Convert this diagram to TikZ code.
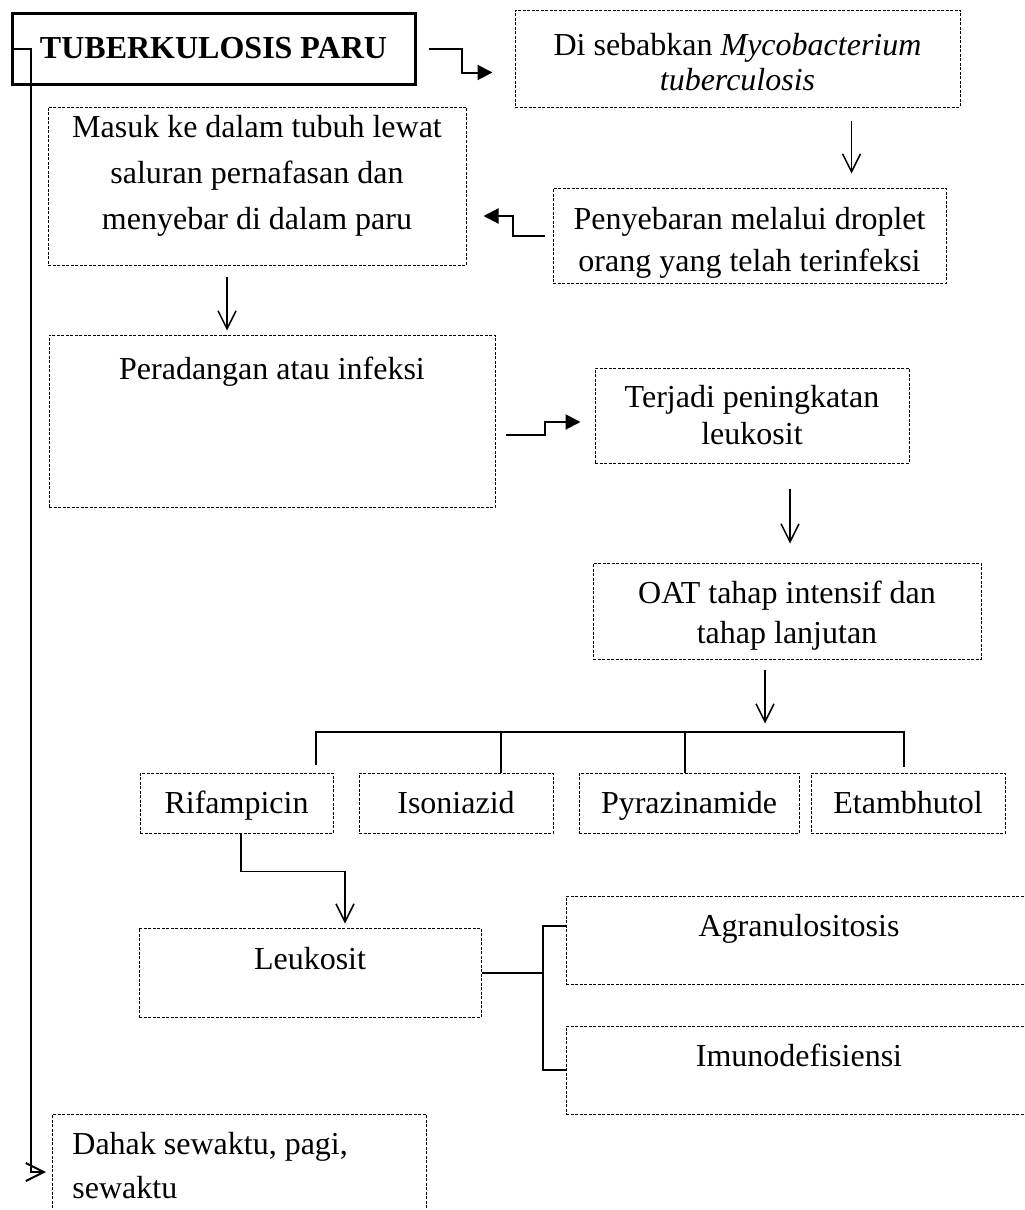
\documentclass[tikz,border=0pt]{standalone}
\usepackage{fontspec}
\setmainfont{Liberation Serif}
\usetikzlibrary{
  positioning,
  arrows.meta
}

\newcommand{\huruf}[1]{\fontsize{16}{#1}\selectfont}

\tikzset{
  judulbox/.style={draw, line width=1.5pt, inner sep=0pt},
  kotak/.style={draw, dash pattern=on 1.5pt off 0.75pt, line width=0.5pt, inner sep=0pt},
  obatbox/.style={kotak, minimum height=30pt, text height=11pt, text depth=1pt},
  teks/.style={inner sep=0pt, align=center},
  panah/.style={-{Straight Barb[length=9pt,width=9pt]}, line width=0.75pt},
  panahisi/.style={-{Triangle[length=7.5pt,width=7.5pt]}, line width=1pt},
  garis/.style={line width=1pt}
}

\begin{document}
\begin{tikzpicture}[x=0.5pt, y=-0.5pt, font=\huruf{20}]
  \useasboundingbox (0,0) rectangle (1024,1210);

  \node[judulbox, minimum width=201.5pt, minimum height=35.5pt, font=\bfseries\huruf{20}]
    (judul) at (213.5,48.5) {TUBERKULOSIS PARU};

  \node[kotak, minimum width=222.5pt, minimum height=48.5pt] (sebab) at (737.5,58.5) {};
  \node[teks, font=\huruf{17.5}, below=11.5pt of sebab.north] (sebabteks)
    {Di sebabkan \textit{Mycobacterium}\\\textit{tuberculosis}};

  \node[kotak, minimum width=209pt, minimum height=79pt] (masuk) at (257,186) {};
  \node[teks, font=\huruf{23}, below=4pt of masuk.north] (masukteks)
    {Masuk ke dalam tubuh lewat\\saluran pernafasan dan\\menyebar di dalam paru};

  \node[kotak, minimum width=196.5pt, minimum height=47.5pt] (sebar) at (749.5,235.5) {};
  \node[teks, font=\huruf{21}, below=9.5pt of sebar.north] (sebarteks)
    {Penyebaran melalui droplet\\orang yang telah terinfeksi};

  \node[kotak, minimum width=223pt, minimum height=86pt] (radang) at (272,421) {};
  \node[teks, below=11pt of radang.north] (radangteks) {Peradangan atau infeksi};

  \node[kotak, minimum width=157pt, minimum height=47.5pt] (naik) at (752,415.5) {};
  \node[teks, font=\huruf{18.5}, below=8.5pt of naik.north] (naikteks)
    {Terjadi peningkatan\\leukosit};

  \node[kotak, minimum width=194pt, minimum height=48pt] (oat) at (787,611) {};
  \node[teks, font=\huruf{20}, below=9pt of oat.north] (oatteks)
    {OAT tahap intensif dan\\tahap lanjutan};

  % obat
  \node[obatbox, minimum width=96.5pt] (rif) at (236.5,803) {Rifampicin};
  \node[obatbox, minimum width=97pt] (iso) at (456,803) {Isoniazid};
  \node[obatbox, minimum width=110pt] (pyr) at (689,803) {Pyrazinamide};
  \node[obatbox, minimum width=97pt] (eta) at (908,803) {Etambhutol};

  \node[kotak, minimum width=171pt, minimum height=44.5pt] (leuko) at (310,972.5) {};
  \node[teks, below=9.5pt of leuko.north] (leukoteks) {Leukosit};

  \node[kotak, minimum width=233pt, minimum height=44pt] (agran) at (799,940) {};
  \node[teks, below=9pt of agran.north] (agranteks) {Agranulositosis};
  \node[kotak, minimum width=233pt, minimum height=44pt] (imun) at (799,1070) {};
  \node[teks, below=9pt of imun.north] (imunteks) {Imunodefisiensi};

  \node[kotak, minimum width=187pt, minimum height=60pt, anchor=north west] (dahak) at (52,1114) {};
  \node[teks, align=left, font=\huruf{22}, below right=9pt and 10pt of dahak.north west] (dahakteks)
    {Dahak sewaktu, pagi,\\sewaktu};

  % panah
  \draw[panahisi] ([xshift=6pt]judul.east) -- ++(33,0) |- ([xshift=-11pt,yshift=-7pt]sebab.west);
  \draw[panah] ([xshift=57pt,yshift=-6.5pt]sebab.south) -- ++(0,53);
  \draw[panahisi] ([xshift=-4pt]sebar.west) -- ++(-32,0) |- ([xshift=8.5pt,yshift=-15pt]masuk.east);
  \draw[panah] ([xshift=-15pt,yshift=-5.5pt]masuk.south) -- ++(0,54);
  \draw[panahisi] ([xshift=5pt,yshift=-7pt]radang.east) -- ++(39,0) |- ([xshift=-7pt,yshift=-3.25pt]naik.west);
  \draw[panah] ([xshift=19pt,yshift=-12.5pt]naik.south) -- ++(0,55);
  \draw[panah] ([xshift=-11pt,yshift=-5pt]oat.south) -- ++(0,54);

  \draw[garis] ([xshift=39.75pt,yshift=4pt]rif.north) -- ++(0,-33) -| ([xshift=-2pt,yshift=3pt]eta.north);
  \draw[garis] ([xshift=22.5pt]iso.north) -- ++(0,-41);
  \draw[garis] ([xshift=-2pt]pyr.north) -- ++(0,-41);

  \draw[panah] ([xshift=2.25pt]rif.south) -- ++(0,38) -| ([xshift=17.5pt,yshift=2pt]leuko.north);
  \draw[garis] (leuko.east) -- ++(62,0);
  \draw[garis] ([yshift=7pt]agran.west) -- ++(-23,0) |- (imun.west);

  \draw[panah, line width=1pt] ([xshift=1.5pt]judul.west) -- ++(17,0) |- ([xshift=-3pt,yshift=-29pt]dahak.north west);
\end{tikzpicture}
\end{document}
